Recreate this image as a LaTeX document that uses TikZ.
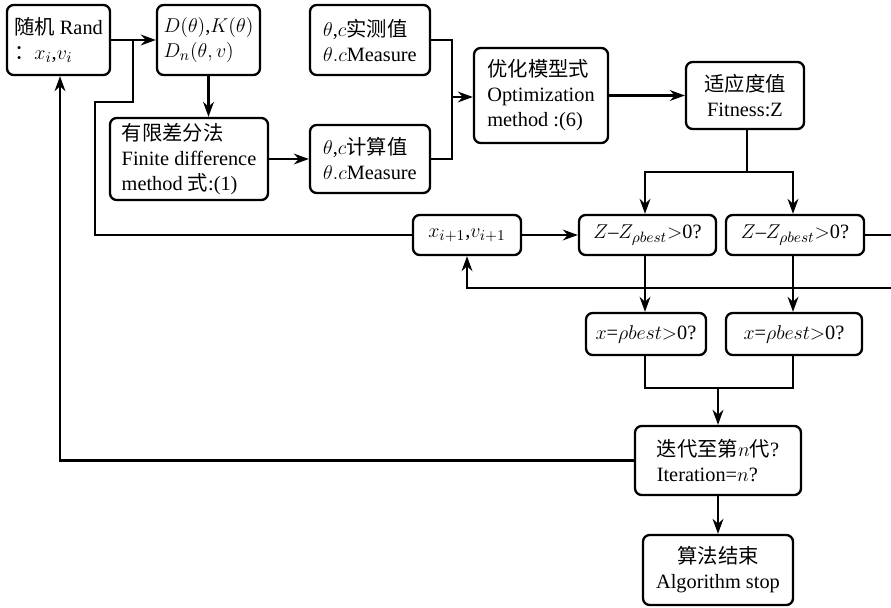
\documentclass[tikz,border=0pt]{standalone}
\usepackage{fontspec}
\setmainfont{Liberation Serif}
\newfontfamily\cjk{Noto Sans CJK SC}
\usetikzlibrary{arrows.meta}
\tikzset{
    blk/.style={draw,line width=1.4pt,rounded corners=4pt,align=left,inner sep=1pt,font=\fontsize{12.2}{15}\selectfont},
    arr/.style={line width=1.3pt,-{Stealth[length=9pt,width=6.5pt]}},
    ln/.style={line width=1.3pt}
}
\begin{document}
\begin{tikzpicture}[x=0.6pt,y=-0.6pt]
        \useasboundingbox (0,0) rectangle (891,608);
        %% Blocks
        \node[blk,minimum width=61.8pt,minimum height=42pt] (rand) at (58.5,40) {{\cjk 随机} Rand\\{\cjk ：}$x_i$,$v_i$};
        \node[blk,minimum width=61.8pt,minimum height=42pt] (dk) at (208.5,40) {$D(\theta)$,$K(\theta)$\\$D_n(\theta,v)$};
        \node[blk,minimum width=94.8pt,minimum height=49.2pt] (fd) at (189,159) {{\cjk 有限差分法}\\Finite difference\\method {\cjk 式}:(1)};
        \node[blk,minimum width=72pt,minimum height=42pt] (meas) at (370,40) {$\theta$,$c${\cjk 实测值}\\$\theta.c$Measure};
        \node[blk,minimum width=72pt,minimum height=40.8pt] (calc) at (370,159) {$\theta$,$c${\cjk 计算值}\\$\theta.c$Measure};
        \node[blk,minimum width=80.4pt,minimum height=57pt] (opt) at (541,95.5) {{\cjk 优化模型式}\\Optimization\\method :(6)};
        \node[blk,align=center,minimum width=70.8pt,minimum height=40.2pt] (fit) at (745,95.5) {{\cjk 适应度值}\\Fitness:Z};
        \node[blk,minimum width=64.8pt,minimum height=24pt] (xi) at (467,235) {$x_{i+1}$,$v_{i+1}$};
        \node[blk,minimum width=82.2pt,minimum height=24pt] (z1) at (647.5,235) {$Z$--$Z_{\rho best}$$>$0?};
        \node[blk,minimum width=82.8pt,minimum height=24pt] (z2) at (795,235) {$Z$--$Z_{\rho best}$$>$0?};
        \node[blk,minimum width=72pt,minimum height=25.2pt] (x1) at (646,334) {$x$=$\rho best$$>$0?};
        \node[blk,minimum width=81.6pt,minimum height=25.2pt] (x2) at (794,334) {$x$=$\rho best$$>$0?};
        \node[blk,minimum width=99.6pt,minimum height=41.4pt] (iter) at (718,460.5) {{\cjk 迭代至第}$n${\cjk 代}?\\Iteration=$n$?};
        \node[blk,align=center,minimum width=90pt,minimum height=42pt] (stop) at (718,570) {{\cjk 算法结束}\\Algorithm stop};
        %% junctions
        \coordinate (j1) at (133,40);
        \coordinate (jm) at (452,97);
        \coordinate (jf) at (747,172);
        \coordinate (jx) at (718,388);
        \coordinate (jr) at (900,288);
        %% connectors
        \draw[arr] (rand.east) -- (dk.west);
        \draw[ln] (xi.west) -- (95,235) -- (95,102) -- (133,102) -- (j1);
        \draw[arr] (dk.south) -- (fd.north -| dk.south);
        \draw[arr] (fd.east |- calc.west) -- (calc.west);
        \draw[ln] (meas.east) -| (jm);
        \draw[ln] (calc.east) -| (jm);
        \draw[arr] (jm) -- (opt.west |- jm);
        \draw[arr] (opt.east |- fit.west) -- (fit.west);
        \draw[ln] (fit.south -| jf) -- (jf);
        \draw[arr] (jf) -| (z1.north -| 645,0);
        \draw[arr] (jf) -| (z2.north -| 793,0);
        \draw[arr] (xi.east) -- (z1.west);
        \draw[arr] (z2.east) -- (jr |- z2.east) -- (jr) -| (xi.south);
        \draw[arr] (z1.south -| 645,0) -- (x1.north -| 645,0);
        \draw[arr] (z2.south -| 793,0) -- (x2.north -| 793,0);
        \draw[ln] (x1.south -| 645,0) |- (jx) -| (x2.south -| 793,0);
        \draw[arr] (jx) -- (iter.north);
        \draw[arr] (iter.west) -| (rand.south -| 60,0);
        \draw[arr] (iter.south) -- (stop.north);
    \end{tikzpicture}
\end{document}
